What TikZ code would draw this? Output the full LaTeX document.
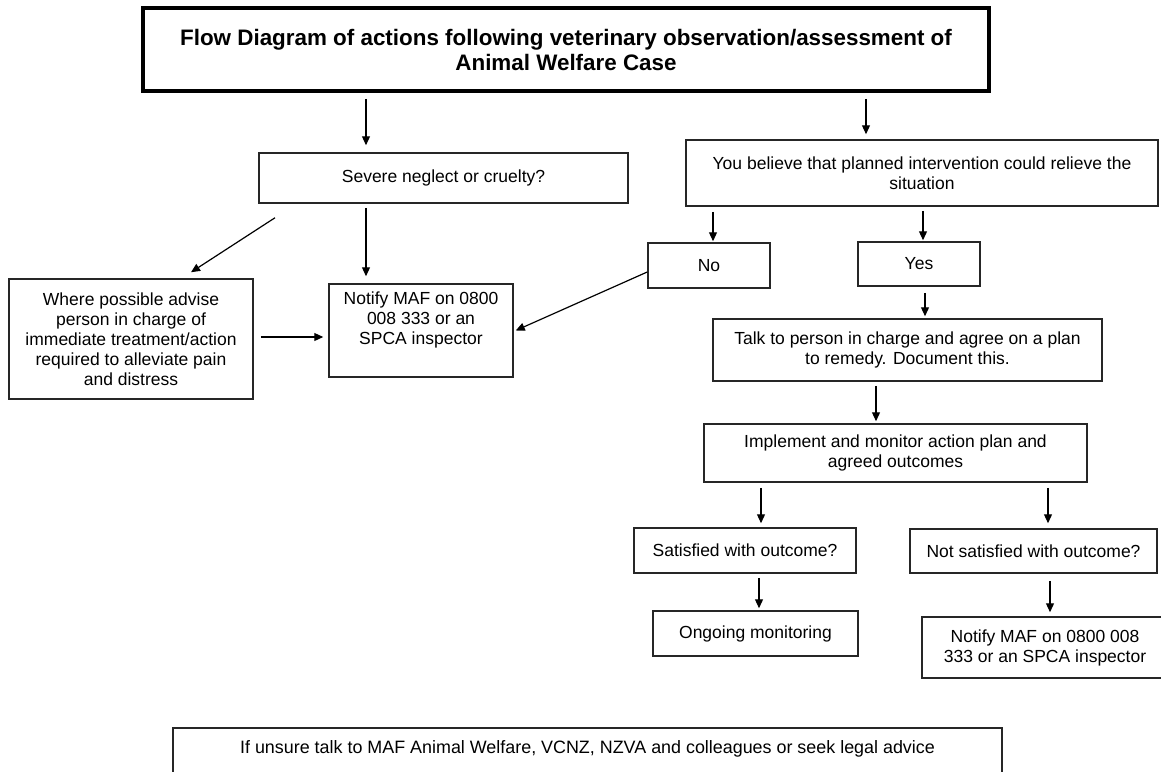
\documentclass[tikz,border=0pt]{standalone}
\usepackage{fontspec}
\setmainfont{Liberation Sans}
\usetikzlibrary{arrows.meta,calc}
\begin{document}
\begin{tikzpicture}[x=1pt,y=-1pt,
  box/.style={draw=black!85, line width=1.5pt, fill=white, align=center, inner sep=0pt,
    font=\fontsize{17.5}{20}\selectfont},
  titlebox/.style={draw=black, line width=3.5pt, align=center, inner sep=0pt,
    font=\bfseries\fontsize{22.4}{25}\selectfont},
  arr/.style={draw=black, line width=1.2pt, -{Triangle[length=9pt,width=8pt]}}]
\useasboundingbox (0,0) rectangle (1161,771);
\fill[white] (0,0) rectangle (1161,771);

\node[titlebox, minimum width=846pt, minimum height=83pt] (title) at (566,49.5)
  {Flow Diagram of actions following veterinary observation/assessment of\\Animal Welfare Case};

\node[box, minimum width=369pt, minimum height=50pt] (sev) at (443.5,178) {Severe neglect or cruelty?};
\node[box, minimum width=472pt, minimum height=66pt] (bel) at (922,173)
  {You believe that planned intervention could relieve the\\situation};
\node[box, minimum width=244pt, minimum height=120pt] (where) at (131,339)
  {Where possible advise\\person in charge of\\immediate treatment/action\\required to alleviate pain\\and distress};
\node[box, minimum width=184pt, minimum height=93pt] (notify) at (421,330.5)
  {Notify MAF on 0800\\008 333 or an\\SPCA inspector\\[4pt]};
\node[box, minimum width=122pt, minimum height=45pt] (no) at (709,265.5) {No};
\node[box, minimum width=122pt, minimum height=44pt] (yes) at (919,264) {Yes};
\node[box, minimum width=389pt, minimum height=62pt] (talk) at (907.5,350)
  {Talk to person in charge and agree on a plan\\to remedy. Document this.};
\node[box, minimum width=383pt, minimum height=58pt] (impl) at (895.5,453)
  {Implement and monitor action plan and\\agreed outcomes};
\node[box, minimum width=222pt, minimum height=45pt] (sat) at (745,550.5) {Satisfied with outcome?};
\node[box, minimum width=247pt, minimum height=44pt] (nsat) at (1033.5,551) {Not satisfied with outcome?};
\node[box, minimum width=205pt, minimum height=45pt] (ong) at (755.5,633.5) {Ongoing monitoring};
\node[box, minimum width=246pt, minimum height=61pt] (not2) at (1045,647.5)
  {Notify MAF on 0800 008\\333 or an SPCA inspector};
\node[box, minimum width=829pt, minimum height=63pt, anchor=north,
  font=\fontsize{17.9}{20}\selectfont] (adv) at (587.5,727)
  {\raisebox{24pt}{If unsure talk to MAF Animal Welfare, VCNZ, NZVA and colleagues or seek legal advice}};

\coordinate (xa) at (366,0);
\coordinate (xb) at (866,0);
\coordinate (xno) at (713,0);
\coordinate (xyes) at (923,0);
\coordinate (xtalk) at (925,0);
\coordinate (ximpl) at (876,0);
\coordinate (xsat) at (761,0);
\coordinate (xnsat) at (1048,0);
\coordinate (xong) at (759,0);
\coordinate (xnot) at (1050,0);

\draw[arr] ([yshift=-6pt]title.south -| xa) -- ([yshift=7pt]sev.north -| xa);
\draw[arr] ([yshift=-6pt]title.south -| xb) -- ([yshift=5pt]bel.north -| xb);
\draw[arr] ([xshift=-168.5pt,yshift=-14pt]sev.south) -- ([xshift=60pt,yshift=6pt]where.north);
\draw[arr] ([yshift=-4pt]sev.south -| xa) -- ([yshift=7pt]notify.north -| xa);
\draw[arr] ([xshift=7pt,yshift=2pt]where.east) -- ([xshift=-5pt,yshift=2pt]where.east -| notify.west);
\draw[arr] ([yshift=-6.5pt]no.west) -- ([xshift=2pt]notify.east);
\draw[arr] ([yshift=-5pt]bel.south -| xno) -- ([yshift=1pt]no.north -| xno);
\draw[arr] ([yshift=-4pt]bel.south -| xyes) -- ([yshift=1pt]yes.north -| xyes);
\draw[arr] ([yshift=-6pt]yes.south -| xtalk) -- ([yshift=2pt]talk.north -| xtalk);
\draw[arr] ([yshift=-4pt]talk.south -| ximpl) -- ([yshift=2pt]impl.north -| ximpl);
\draw[arr] ([yshift=-5pt]impl.south -| xsat) -- ([yshift=4pt]sat.north -| xsat);
\draw[arr] ([yshift=-5pt]impl.south -| xnsat) -- ([yshift=5pt]nsat.north -| xnsat);
\draw[arr] ([yshift=-4pt]sat.south -| xong) -- ([yshift=2pt]ong.north -| xong);
\draw[arr] ([yshift=-7pt]nsat.south -| xnot) -- ([yshift=4pt]not2.north -| xnot);
\end{tikzpicture}
\end{document}
